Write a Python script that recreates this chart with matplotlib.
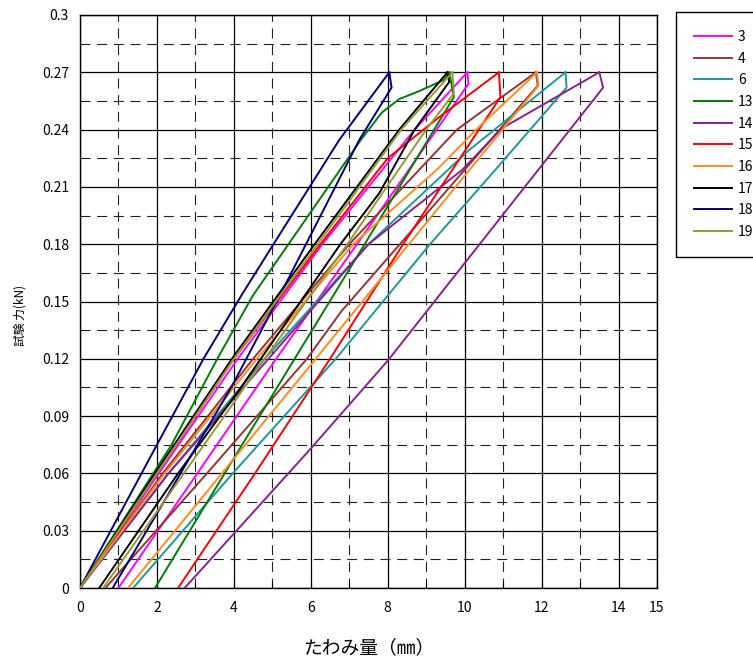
import matplotlib
matplotlib.use('Agg')
import matplotlib.pyplot as plt
import numpy as np

plt.rcParams['font.family'] = ['Noto Sans CJK JP', 'DejaVu Sans']

# 試験片ごとの曲線（負荷: 原点から最大点まで, 除荷: 最大点から残留たわみまで）
s3_load_x = [0, 2.05, 4.1, 6.3, 8.7, 10.07]
s3_load_y = [0, 0.06, 0.12, 0.18, 0.24, 0.27]
s3_unload_x = [10.07, 10.1, 8.55, 7.2, 5.1, 3.05, 1.0]
s3_unload_y = [0.27, 0.264, 0.219, 0.18, 0.12, 0.06, 0]

s4_load_x = [0, 2.15, 4.5, 7.0, 9.8, 11.85]
s4_load_y = [0, 0.06, 0.12, 0.18, 0.24, 0.27]
s4_unload_x = [11.85, 11.9, 9.4, 6.8, 5.9, 3.3, 0.66]
s4_unload_y = [0.27, 0.263, 0.205, 0.145, 0.12, 0.06, 0]

s6_load_x = [0, 2.3, 4.8, 7.5, 10.1, 12.62]
s6_load_y = [0, 0.06, 0.12, 0.18, 0.229, 0.27]
s6_unload_x = [12.62, 12.65, 10.8, 9.1, 6.65, 3.97, 1.38]
s6_unload_y = [0.27, 0.262, 0.219, 0.18, 0.12, 0.06, 0]

s13_load_x = [0, 2.38, 3.57, 4.49, 5.42, 7.3, 7.85, 8.3, 8.8, 9.46, 9.6]
s13_load_y = [0, 0.075, 0.12, 0.153, 0.18, 0.2346, 0.249, 0.256, 0.26, 0.266, 0.27]
s13_unload_x = [9.6, 9.72, 7.4, 5.58, 3.76, 1.95]
s13_unload_y = [0.27, 0.257, 0.18, 0.12, 0.06, 0]

s14_load_x = [0, 2.3, 4.9, 7.5, 9.94, 10.97, 13.5]
s14_load_y = [0, 0.06, 0.12, 0.18, 0.219, 0.2407, 0.27]
s14_unload_x = [13.5, 13.6, 8.0, 6.0, 3.89, 2.72]
s14_unload_y = [0.27, 0.262, 0.119, 0.073, 0.026, 0]

s15_load_x = [0, 2.0, 4.0, 6.25, 8.0, 9.24, 10.89]
s15_load_y = [0, 0.06, 0.12, 0.18, 0.225, 0.245, 0.27]
s15_unload_x = [10.89, 10.93, 8.4, 6.5, 4.55, 2.55]
s15_unload_y = [0.27, 0.257, 0.18, 0.12, 0.06, 0]

s16_load_x = [0, 2.2, 4.6, 7.1, 9.33, 10.3, 11.88]
s16_load_y = [0, 0.06, 0.12, 0.18, 0.22, 0.24, 0.27]
s16_unload_x = [11.88, 11.92, 10.17, 8.55, 6.13, 3.69, 1.25]
s16_unload_y = [0.27, 0.263, 0.22, 0.18, 0.12, 0.06, 0]

s17_load_x = [0, 1.95, 3.95, 6.1, 8.3, 9.55]
s17_load_y = [0, 0.06, 0.12, 0.18, 0.24, 0.27]
s17_unload_x = [9.55, 9.6, 8.7, 7.78, 6.77, 4.15, 2.55, 0.5]
s17_unload_y = [0.27, 0.265, 0.24, 0.2067, 0.18, 0.104, 0.06, 0]

s18_load_x = [0, 2.0, 3.21, 4.19, 5.03, 6.74, 8.04]
s18_load_y = [0, 0.075, 0.12, 0.153, 0.18, 0.2346, 0.27]
s18_unload_x = [8.04, 8.1, 7.26, 5.19, 3.93, 2.0, 0.85]
s18_unload_y = [0.27, 0.262, 0.2346, 0.153, 0.105, 0.039, 0]

s19_load_x = [0, 2.0, 4.0, 6.18, 8.35, 9.68]
s19_load_y = [0, 0.06, 0.12, 0.18, 0.24, 0.27]
s19_unload_x = [9.68, 9.72, 9.0, 6.95, 4.8, 2.7, 0.6]
s19_unload_y = [0.27, 0.259, 0.24, 0.18, 0.12, 0.06, 0]

labels = ['3', '4', '6', '13', '14', '15', '16', '17', '18', '19']
colors = ['#FF00FF', '#993333', '#1A9A9A', '#008000', '#8E1E96',
          '#FF0000', '#FF8C1A', '#000000', '#000080', '#999933']

curves = [
    (s3_load_x, s3_load_y, s3_unload_x, s3_unload_y),
    (s4_load_x, s4_load_y, s4_unload_x, s4_unload_y),
    (s6_load_x, s6_load_y, s6_unload_x, s6_unload_y),
    (s13_load_x, s13_load_y, s13_unload_x, s13_unload_y),
    (s14_load_x, s14_load_y, s14_unload_x, s14_unload_y),
    (s15_load_x, s15_load_y, s15_unload_x, s15_unload_y),
    (s16_load_x, s16_load_y, s16_unload_x, s16_unload_y),
    (s17_load_x, s17_load_y, s17_unload_x, s17_unload_y),
    (s18_load_x, s18_load_y, s18_unload_x, s18_unload_y),
    (s19_load_x, s19_load_y, s19_unload_x, s19_unload_y),
]

ytick_vals = [0, 0.03, 0.06, 0.09, 0.12, 0.15, 0.18, 0.21, 0.24, 0.27, 0.3]
ytick_labels = ['0', '0.03', '0.06', '0.09', '0.12', '0.15', '0.18', '0.21', '0.24', '0.27', '0.3']
xtick_vals = [0, 2, 4, 6, 8, 10, 12, 14, 15]

fig = plt.figure(figsize=(7.53, 6.61), dpi=100)
ax = fig.add_axes([80 / 753, 73 / 661, 577 / 753, 573 / 661])

handles = []
for (lx, ly, ux, uy), lab, c in zip(curves, labels, colors):
    h, = ax.plot(lx, ly, color=c, lw=1.4, label=lab, zorder=3)
    ax.plot(ux, uy, color=c, lw=1.4, zorder=3)
    handles.append(h)

ax.set_xlim(0, 15)
ax.set_ylim(0, 0.3)
ax.set_xticks(xtick_vals)
ax.set_xticklabels([str(v) for v in xtick_vals])
ax.set_xticks(np.arange(1, 15, 2), minor=True)
ax.set_yticks(ytick_vals)
ax.set_yticklabels(ytick_labels)
ax.set_yticks(np.arange(0.015, 0.3, 0.03), minor=True)

ax.grid(which='major', color='black', lw=0.9)
ax.grid(which='minor', color='#222222', lw=0.8, linestyle=(0, (9, 6)))
ax.set_axisbelow(True)

ax.tick_params(axis='x', which='both', direction='in', length=4, width=0.8,
               pad=9, labelsize=10)
ax.tick_params(axis='y', which='both', length=0, pad=8, labelsize=10)
for s in ax.spines.values():
    s.set_linewidth(1.0)
    s.set_color('black')

ax.set_xlabel('たわみ量（㎜）', fontsize=13.5, labelpad=16)
fig.text(20 / 753, 1 - 315 / 661, '試験 力(kN)', rotation=90, fontsize=8.5,
         ha='center', va='center')

leg = fig.legend(handles=handles, labels=labels, loc='upper left',
                 bbox_to_anchor=(676 / 753, 1 - 12 / 661), fontsize=10,
                 handlelength=2.7, handletextpad=0.45, labelspacing=0.55,
                 borderpad=1.3, borderaxespad=0, fancybox=False, framealpha=1)
leg.get_frame().set_edgecolor('black')
leg.get_frame().set_linewidth(1.0)
for ln in leg.get_lines():
    ln.set_linewidth(1.4)

fig.savefig('out.png', dpi=100)
